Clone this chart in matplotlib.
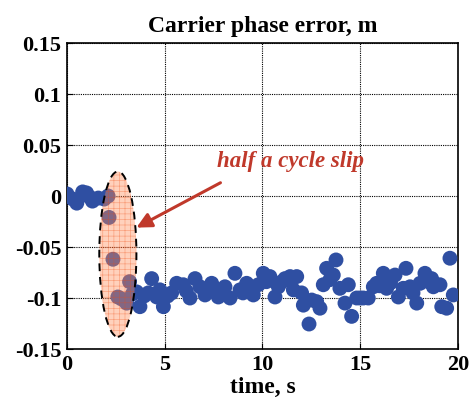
import matplotlib
matplotlib.use("Agg")
import matplotlib.pyplot as plt
from matplotlib.patches import Ellipse

# ------------------------------------------------------------
# data
# ------------------------------------------------------------
t_before = [0.0, 0.3, 0.5, 0.8, 1.0, 1.15, 1.3, 1.6, 1.9, 2.1]
err_before = [0.002, -0.003, -0.007, 0.004, 0.003, -0.001, -0.005, -0.002, -0.003, 0.0]

t_slip = [2.15, 2.35, 2.6, 2.8, 3.05, 3.2]
err_slip = [-0.021, -0.062, -0.099, -0.101, -0.105, -0.084]

t_after = [3.35, 3.56, 3.73, 3.95, 4.16, 4.33, 4.59, 4.75, 4.93, 5.15,
           5.35, 5.61, 5.95, 6.1, 6.29, 6.55, 6.80, 7.06, 7.25, 7.40,
           7.74, 7.9, 8.08, 8.34, 8.59, 8.85, 9.0, 9.19, 9.35, 9.53,
           9.79, 10.04, 10.2, 10.38, 10.64, 10.81, 11.0, 11.15, 11.41, 11.58,
           11.75, 12.0, 12.09, 12.38, 12.52, 12.77, 12.94, 13.11, 13.28, 13.45,
           13.62, 13.76, 13.96, 14.22, 14.39, 14.56, 14.82, 15.0, 15.16, 15.41,
           15.67, 15.84, 16.0, 16.18, 16.35, 16.55, 16.78, 16.95, 17.2, 17.34,
           17.55, 17.7, 17.89, 18.06, 18.31, 18.5, 18.65, 18.74, 19.08, 19.17,
           19.42, 19.59, 19.76]
err_after = [-0.096, -0.094, -0.1085, -0.098, -0.095, -0.081, -0.099, -0.092, -0.1085, -0.098,
             -0.095, -0.0856, -0.087, -0.093, -0.100, -0.081, -0.089, -0.097, -0.092, -0.0856,
             -0.099, -0.094, -0.089, -0.100, -0.0758, -0.092, -0.095, -0.0856, -0.091, -0.097,
             -0.087, -0.0758, -0.084, -0.079, -0.099, -0.089, -0.084, -0.081, -0.079, -0.092,
             -0.079, -0.095, -0.107, -0.1255, -0.102, -0.1036, -0.110, -0.087, -0.0709, -0.082,
             -0.0775, -0.0627, -0.0905, -0.105, -0.087, -0.118, -0.100, -0.100, -0.100, -0.100,
             -0.089, -0.0856, -0.088, -0.0758, -0.0905, -0.085, -0.0775, -0.099, -0.0905, -0.0709,
             -0.089, -0.095, -0.105, -0.0856, -0.0758, -0.084, -0.081, -0.089, -0.087, -0.1085,
             -0.110, -0.061, -0.097]

x_ticks = [0, 5, 10, 15, 20]
y_ticks = [-0.15, -0.1, -0.05, 0, 0.05, 0.1, 0.15]
y_tick_labels = ["-0.15", "-0.1", "-0.05", "0", "0.05", "0.1", "0.15"]

# ellipse around the slip: centre, width, height in data units
slip_centre = (2.6, -0.057)
slip_width = 1.9
slip_height = 0.162

note_text = "half a cycle slip"
note_text_xy = (11.45, 0.0235)
arrow_tip = (3.55, -0.031)
arrow_tail = (7.85, 0.013)

plt.rcParams["font.family"] = ["Liberation Serif", "DejaVu Serif"]
plt.rcParams["font.weight"] = "bold"
plt.rcParams["hatch.linewidth"] = 0.45

fig = plt.figure(figsize=(4.69, 4.08), dpi=100)
ax = fig.add_axes([0.1429, 0.1446, 0.8336, 0.75])

punto = "#2f4fa2"
ax.scatter(t_before + t_slip + t_after,
           err_before + err_slip + err_after,
           s=115, color=punto, edgecolors="none", zorder=3)

# ellipse: translucent peach with an orange grid hatch over the points
elipse = Ellipse(slip_centre, slip_width, slip_height,
                 facecolor=(1.0, 0.55, 0.35), hatch="+++",
                 edgecolor="#f04a10", linewidth=0, zorder=4)
elipse.set_alpha(0.4)
ax.add_patch(elipse)
borde = Ellipse(slip_centre, slip_width, slip_height,
                facecolor="none", edgecolor="black", linestyle=(0, (4, 3)),
                linewidth=1.4, zorder=5)
ax.add_patch(borde)

rojo = "#c0392b"
ax.text(note_text_xy[0], note_text_xy[1], note_text,
        fontsize=16.5, fontstyle="italic", fontweight="bold",
        color=rojo, ha="center", va="bottom", zorder=6)
ax.annotate("", xy=arrow_tip, xytext=arrow_tail,
            arrowprops=dict(arrowstyle="-|>,head_length=0.9,head_width=0.45",
                            color=rojo, linewidth=2.2,
                            shrinkA=0, shrinkB=0),
            zorder=6)

ax.set_xlim(0, 20)
ax.set_ylim(-0.15, 0.15)
ax.set_xticks(x_ticks)
ax.set_xticklabels([str(v) for v in x_ticks])
ax.set_yticks(y_ticks)
ax.set_yticklabels(y_tick_labels)
ax.tick_params(direction="in", length=4, labelsize=16, pad=4)
ax.grid(True, color="black", linestyle=(0, (1, 1)), linewidth=0.8)

for lado in ax.spines.values():
    lado.set_linewidth(1.2)

ax.set_title("Carrier phase error, m", fontsize=17, fontweight="bold", pad=8)
ax.set_xlabel("time, s", fontsize=17, fontweight="bold", labelpad=2)

fig.savefig("out.png", dpi=100)
